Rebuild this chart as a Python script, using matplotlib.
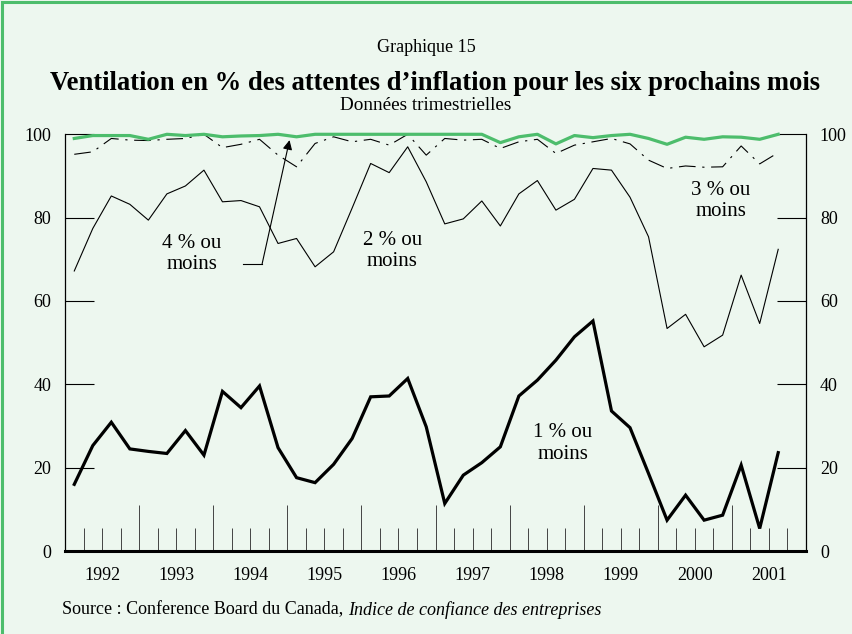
import numpy as np
import matplotlib
matplotlib.use("Agg")
import matplotlib.pyplot as plt
from matplotlib.patches import Rectangle
from matplotlib.transforms import blended_transform_factory

plt.rcParams['font.family'] = ['Liberation Serif', 'DejaVu Serif']

# quarterly data, 1992Q1 .. 2001Q3
pct_1_ou_moins = [16.0, 25.3, 30.9, 24.5, 23.9, 23.4, 28.9, 23.0, 38.3, 34.4,
                  39.6, 24.8, 17.6, 16.4, 20.8, 27.0, 37.0, 37.2, 41.4, 29.8,
                  11.4, 18.2, 21.2, 25.0, 37.2, 41.0, 45.8, 51.4, 55.2, 33.6,
                  29.6, 18.6, 7.4, 13.4, 7.4, 8.6, 20.6, 5.4, 23.6]
pct_2_ou_moins = [67.2, 77.4, 85.2, 83.2, 79.4, 85.7, 87.6, 91.4, 83.8, 84.1,
                  82.6, 73.8, 75.0, 68.2, 71.8, 82.3, 93.0, 90.8, 97.0, 88.6,
                  78.5, 79.7, 84.0, 78.0, 85.7, 88.9, 81.8, 84.4, 91.8, 91.4,
                  84.9, 75.4, 53.4, 56.8, 49.0, 51.8, 66.2, 54.6, 72.4]
pct_3_ou_moins = [95.2, 95.8, 99.0, 98.6, 98.5, 98.8, 99.0, 100.0, 96.8, 97.6,
                  98.8, 95.0, 92.2, 97.8, 99.4, 98.2, 98.8, 97.4, 100.0, 95.0,
                  99.0, 98.6, 98.8, 96.6, 98.2, 98.8, 95.4, 97.4, 98.2, 99.0,
                  97.7, 93.8, 91.8, 92.4, 92.1, 92.2, 97.2, 92.9, 95.6]
pct_4_ou_moins = [99.0, 99.7, 99.7, 99.7, 98.8, 100.0, 99.7, 100.0, 99.4, 99.6,
                  99.7, 100.0, 99.4, 100.0, 100.0, 100.0, 100.0, 100.0, 100.0, 100.0,
                  100.0, 100.0, 100.0, 98.0, 99.4, 100.0, 97.7, 99.7, 99.2, 99.7,
                  100.0, 99.0, 97.6, 99.3, 98.8, 99.4, 99.3, 98.8, 100.0]
years = list(range(1992, 2002))
yticks = [0, 20, 40, 60, 80, 100]

n = len(pct_1_ou_moins)
x = 1992 + (np.arange(n) + 0.5) / 4.0

BG = '#edf7ef'
GREEN = '#4dbd6c'

fig = plt.figure(figsize=(8.53, 6.34), dpi=100)
fig.patch.set_facecolor(BG)
fig.patches.append(Rectangle((2.5 / 853, -0.1), 1.2, 1.1 - 2.5 / 634,
                             transform=fig.transFigure, fill=False,
                             edgecolor=GREEN, linewidth=2.2))

ax = fig.add_axes([65 / 853, 1 - 551 / 634, 741 / 853, (551 - 134.3) / 634])
ax.set_facecolor(BG)

ax.plot(x, pct_2_ou_moins, color='black', lw=0.8)
ax.plot(x, pct_3_ou_moins, color='black', lw=0.8, linestyle=(0, (15, 6, 2, 6)))
ax.plot(x, pct_1_ou_moins, color='black', lw=2.3, solid_joinstyle='miter')
ax.plot(x, pct_4_ou_moins, color=GREEN, lw=2.3, clip_on=False)

ax.set_xlim(1992, 2002)
ax.set_ylim(0, 100)

ax.spines['top'].set_visible(False)
ax.spines['left'].set_linewidth(0.9)
ax.spines['right'].set_linewidth(0.9)
ax.spines['bottom'].set_linewidth(2.2)

ax.set_yticks(yticks)
ax.tick_params(axis='y', direction='in', length=21, width=0.8, left=True, right=True,
               labelleft=True, labelright=True, labelsize=13, pad=10)

ax.set_xticks(years[1:] + [2002])
ax.set_xticks([y + q / 4 for y in years for q in (1, 2, 3)], minor=True)
ax.tick_params(axis='x', which='major', direction='in', length=33, width=0.7,
               color='#444444', labelbottom=False)
ax.tick_params(axis='x', which='minor', direction='in', length=16.5, width=0.7,
               color='#444444')

trans = blended_transform_factory(ax.transData, ax.transAxes)
for yr in years:
    ax.text(yr + 0.5, -0.059, str(yr), transform=trans, ha='center', va='center',
            fontsize=13)

lab = dict(ha='center', va='center', fontsize=15, linespacing=1.15)
ax.text(1993.71, 71.3, '4 % ou\nmoins', **lab)
ax.text(1996.42, 71.9, '2 % ou\nmoins', **lab)
ax.text(2000.85, 83.9, '3 % ou\nmoins', **lab)
ax.text(1998.72, 25.8, '1 % ou\nmoins', **lab)

# arrow from the "4 %" label to its line
ax.plot([1994.40, 1994.66], [68.9, 68.9], color='black', lw=0.8)
ax.annotate('', xy=(1995.03, 98.6), xytext=(1994.66, 68.9),
            arrowprops=dict(arrowstyle='-|>', color='black', lw=0.8,
                            mutation_scale=14, shrinkA=0, shrinkB=0))

fig.text(426 / 853, 1 - 47 / 634, 'Graphique 15', ha='center', va='center', fontsize=13)
fig.text(435 / 853, 1 - 84 / 634,
         'Ventilation en % des attentes d\u2019inflation pour les six prochains mois',
         ha='center', va='center', fontsize=19.2, fontweight='bold')
fig.text(426 / 853, 1 - 105 / 634, 'Données trimestrielles', ha='center', va='center',
         fontsize=13.8)
src = fig.text(62 / 853, 1 - 610 / 634, 'Source : Conference Board du Canada, ',
               ha='left', va='center', fontsize=13)
fig.canvas.draw()
bb = src.get_window_extent()
fig.text(bb.x1 / fig.bbox.width, 1 - 610 / 634, 'Indice de confiance des entreprises',
         ha='left', va='center', fontsize=13, style='italic')

fig.savefig('out.png', dpi=100, facecolor=BG)
